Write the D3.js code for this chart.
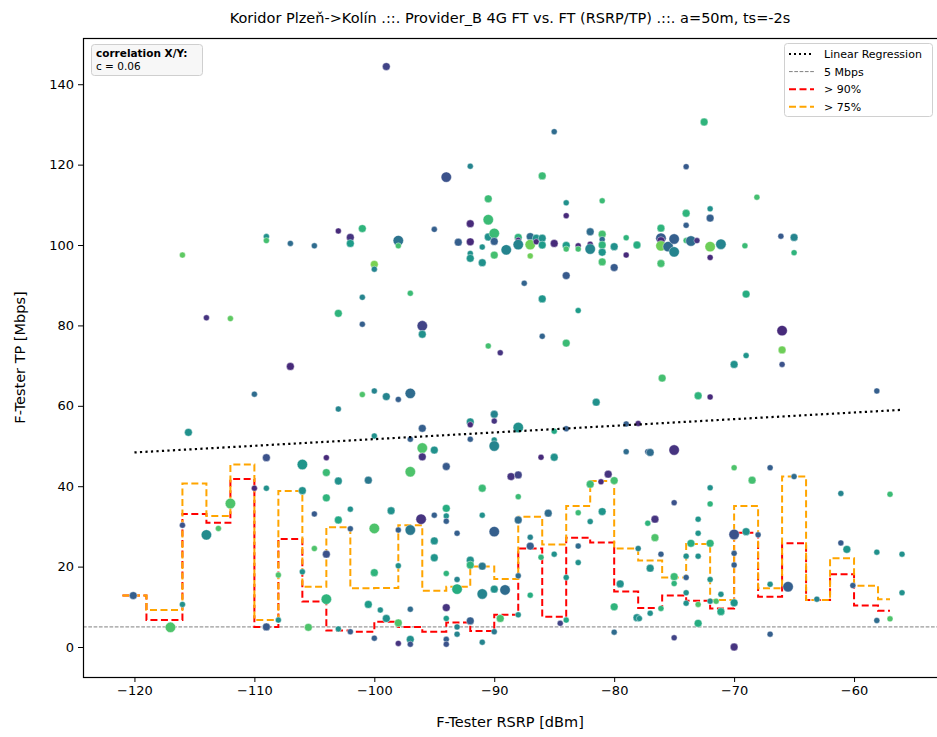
<!DOCTYPE html>
<html>
<head>
<meta charset="utf-8">
<script src="https://cdn.jsdelivr.net/npm/d3@7"></script>
<style>
  body { margin: 0; background: #fff; }
  svg { display: block; font-family: "DejaVu Sans", sans-serif; }
</style>
</head>
<body>
<svg id="chart" width="937" height="737"></svg>
<script>
// ---------------- DATA ----------------
const titleText = "Koridor Plzeň->Kolín .::. Provider_B 4G FT vs. FT (RSRP/TP) .::. a=50m, ts=-2s";
const xLabel = "F-Tester RSRP [dBm]";
const yLabel = "F-Tester TP [Mbps]";
const xTicks = [-120, -110, -100, -90, -80, -70, -60];
const yTicks = [0, 20, 40, 60, 80, 100, 120, 140];
const correlationLabel = "correlation X/Y:";
const correlationValue = "c = 0.06";
const thresholdMbps = 5;
const regressionX = [-120, -56];
const regressionY = [48.4, 59.0];

// percentile step lines (bin centres, dBm)
const stepCenters = [-121, -117, -115, -113, -111, -109, -107, -105, -103, -101, -99, -97, -95, -93, -91, -89,
                     -87, -85, -83, -81, -79, -77, -75, -73, -71, -69, -67, -65, -63, -61, -59, -57];
const p90 = [12.8, 6.7, 33.1, 30.9, 41.8, 5.0, 26.9, 11.3, 4.1, 3.8, 6.3, 5.0, 3.8, 6.1, 4.0, 8.0,
             24.5, 7.5, 27.2, 26.0, 13.8, 9.7, 12.8, 11.5, 9.6, 28.4, 12.5, 25.8, 11.7, 18.1, 10.3, 9.0];
const p75 = [12.8, 9.2, 40.7, 32.6, 45.4, 6.7, 38.8, 15.0, 29.8, 14.6, 14.7, 30.3, 14.0, 15.0, 20.0, 16.9,
             32.4, 25.5, 35.1, 41.3, 24.5, 21.5, 17.3, 25.6, 11.7, 35.1, 14.6, 42.4, 11.7, 22.1, 15.25, 11.9];

// scatter samples: [RSRP dBm, TP Mbps, colour value (0..1), size class]
const samples = [
 [-99.0,144.4,0.2,2],[-92.0,119.6,0.45,1],[-94.0,116.9,0.25,3],[-90.5,111.5,0.68,2],[-85.0,128.2,0.35,1],
 [-86.0,117.2,0.68,2],[-72.5,130.6,0.65,2],[-74.0,119.5,0.28,1],[-68.1,111.9,0.7,1],[-84.0,110.5,0.5,1],
 [-84.0,107.3,0.12,1],[-81.0,111.0,0.68,1],[-72.0,109.0,0.5,1],[-74.0,107.9,0.65,2],[-74.0,104.9,0.3,1],
 [-72.0,106.7,0.3,2],
 [-116.0,97.5,0.75,1],[-109.0,102.1,0.5,1],[-109.0,101.1,0.7,1],[-107.0,100.4,0.35,1],[-105.0,99.8,0.35,1],
 [-103.0,103.5,0.12,1],[-102.0,101.9,0.15,2],[-102.0,100.4,0.55,2],[-101.0,104.1,0.65,2],[-100.0,95.2,0.8,2],
 [-100.0,94.0,0.45,1],[-98.0,101.1,0.38,3],[-98.0,99.8,0.7,1],[-95.0,103.9,0.3,1],[-93.0,100.7,0.3,2],
 [-92.0,105.3,0.12,2],[-92.0,100.8,0.12,2],[-92.0,97.9,0.5,1],[-92.0,96.7,0.52,2],[-91.0,99.5,0.5,1],
 [-91.0,95.6,0.5,2],[-90.5,106.3,0.68,3],[-90.5,102.0,0.5,2],[-90.0,102.9,0.68,3],[-90.0,100.9,0.3,2],
 [-90.0,97.5,0.7,2],[-89.0,98.8,0.45,3],[-88.0,101.9,0.65,2],[-88.0,101.2,0.12,1],[-88.0,100.1,0.45,3],
 [-87.0,102.1,0.35,2],[-87.0,100.1,0.78,3],[-87.0,97.3,0.78,1],[-86.5,101.7,0.5,2],[-86.5,100.8,0.12,1],
 [-86.0,101.7,0.5,2],[-86.0,100.0,0.55,2],[-85.0,100.4,0.12,2],[-84.0,99.9,0.55,2],[-84.0,99.0,0.7,1],
 [-84.0,92.4,0.28,2],[-83.0,99.8,0.12,1],[-83.0,99.0,0.7,1],[-82.0,103.3,0.35,2],[-82.0,100.2,0.12,1],
 [-82.0,99.0,0.45,3],[-81.0,102.7,0.7,2],[-81.0,101.4,0.35,1],[-81.0,100.0,0.65,2],[-81.0,98.2,0.52,2],
 [-81.0,95.8,0.7,2],[-80.0,99.6,0.5,2],[-80.0,94.4,0.28,2],[-79.0,101.8,0.65,1],[-79.0,97.5,0.12,1],
 [-78.1,100.0,0.62,2],[-76.1,104.2,0.65,2],[-76.1,101.7,0.28,3],[-76.1,101.1,0.12,2],[-76.1,99.8,0.78,3],
 [-76.1,95.4,0.7,2],[-75.5,99.6,0.35,3],[-75.0,101.5,0.3,3],[-75.0,98.3,0.45,3],[-74.0,101.1,0.68,1],
 [-73.6,101.0,0.35,3],[-73.1,101.1,0.15,1],[-72.0,99.6,0.78,3],[-72.0,96.9,0.12,1],[-71.1,100.2,0.45,3],
 [-69.1,99.8,0.68,1],[-66.1,102.2,0.28,1],[-65.0,101.9,0.45,2],[-65.0,98.1,0.65,1],
 [-87.5,90.5,0.32,1],[-86.0,86.6,0.52,2],[-86.0,77.3,0.32,1],[-83.0,83.7,0.55,1],[-84.0,75.6,0.68,2],
 [-69.0,87.8,0.62,2],[-66.0,78.7,0.12,3],[-66.0,73.9,0.78,2],[-66.0,70.3,0.25,1],[-69.0,72.5,0.52,1],
 [-70.0,70.3,0.5,2],[-76.0,66.9,0.7,2],[-73.0,62.5,0.65,2],[-72.0,62.2,0.12,1],[-58.1,63.7,0.3,1],
 [-81.5,60.9,0.5,2],[-88.0,54.6,0.5,3],[-85.0,53.7,0.6,1],[-84.0,54.3,0.3,1],[-79.0,55.5,0.3,1],
 [-78.0,55.6,0.12,1],[-89.5,73.2,0.15,1],[-90.5,74.9,0.7,1],[-101.0,87.0,0.45,1],[-97.0,88.0,0.68,1],
 [-103.0,83.0,0.65,2],[-101.0,80.3,0.3,1],[-96.0,79.9,0.2,3],[-96.0,77.8,0.5,2],[-114.0,81.9,0.15,1],
 [-112.0,81.7,0.75,1],[-107.0,69.8,0.12,2],[-110.0,62.9,0.35,1],[-101.0,62.8,0.72,1],[-100.0,63.7,0.45,1],
 [-99.0,62.3,0.45,2],[-98.0,61.6,0.3,1],[-97.0,63.1,0.35,3],[-103.0,59.2,0.45,1],[-115.5,53.4,0.5,2],
 [-92.0,56.0,0.5,2],[-92.0,55.3,0.12,1],[-90.0,57.9,0.45,2],[-90.0,56.2,0.15,1],[-100.0,52.5,0.5,1],
 [-97.0,51.7,0.3,1],[-96.0,54.4,0.3,2],[-92.0,51.7,0.3,1],[-90.0,51.5,0.5,1],[-90.0,50.0,0.45,3],
 [-96.0,49.5,0.72,3],[-95.0,49.0,0.5,2],[-96.0,47.3,0.15,2],[-94.0,44.9,0.28,2],
 [-120.1,12.8,0.3,2],[-117.0,4.9,0.72,3],[-116.0,30.3,0.25,1],[-116.0,10.6,0.5,1],[-114.0,27.9,0.48,3],
 [-113.0,29.5,0.72,1],[-112.0,35.7,0.72,3],[-110.0,39.5,0.12,1],[-109.0,47.1,0.25,2],[-109.0,39.5,0.5,1],
 [-109.0,5.0,0.28,2],[-108.0,17.9,0.72,1],[-108.0,6.7,0.5,1],[-106.0,45.4,0.52,3],[-106.0,38.9,0.5,2],
 [-106.0,18.7,0.5,1],[-105.5,4.9,0.72,2],[-105.0,33.1,0.28,1],[-105.0,24.5,0.72,1],[-104.0,47.1,0.12,1],
 [-104.0,43.4,0.68,2],[-104.0,37.1,0.65,2],[-104.0,23.1,0.25,2],[-104.0,11.9,0.65,3],[-103.0,41.3,0.5,2],
 [-103.0,31.6,0.6,2],[-103.0,4.5,0.5,1],[-102.0,34.3,0.5,1],[-102.0,29.4,0.3,1],[-102.0,3.8,0.3,1],
 [-100.5,41.5,0.4,2],[-100.5,10.6,0.55,2],[-100.0,29.5,0.72,3],[-100.0,18.5,0.65,2],[-100.0,2.2,0.3,1],
 [-99.5,9.2,0.5,1],[-99.0,7.1,0.5,2],[-98.0,6.0,0.72,2],[-98.0,0.9,0.15,1],[-97.0,1.9,0.5,2],
 [-97.0,0.7,0.25,1],[-97.0,9.4,0.35,1],[-97.0,43.6,0.72,3],[-98.6,33.9,0.5,2],[-98.0,29.1,0.3,1],
 [-97.0,29.1,0.4,3],[-98.0,20.2,0.5,1],[-96.1,31.8,0.15,3],[-95.0,32.8,0.3,1],[-94.0,34.5,0.62,2],
 [-94.0,32.6,0.5,1],[-94.0,31.3,0.3,1],[-95.0,26.4,0.5,2],[-95.0,22.2,0.52,2],[-94.0,18.3,0.65,1],
 [-94.0,9.8,0.15,2],[-94.0,7.1,0.55,1],[-94.0,1.9,0.3,1],[-94.0,0.7,0.25,1],[-93.1,28.3,0.3,1],
 [-93.1,16.8,0.45,1],[-93.1,14.4,0.62,3],[-93.1,5.0,0.45,1],[-93.1,3.2,0.45,1],[-92.0,21.6,0.5,2],
 [-92.0,20.4,0.65,2],[-92.0,6.5,0.3,2],[-91.0,39.5,0.68,2],[-91.0,32.8,0.5,1],[-91.0,20.1,0.4,2],
 [-91.0,13.2,0.45,3],[-91.0,1.2,0.45,1],[-90.0,28.7,0.3,3],[-90.0,14.4,0.5,2],[-90.0,3.8,0.4,1],
 [-89.1,14.2,0.35,3],[-88.6,42.4,0.15,2],[-88.0,42.8,0.2,2],[-88.0,37.4,0.68,1],[-88.0,31.6,0.35,2],
 [-88.0,17.7,0.35,1],[-88.0,8.0,0.5,1],[-89.5,7.1,0.7,2],[-87.0,27.3,0.45,1],[-87.0,25.1,0.3,2],
 [-87.0,12.9,0.62,1],[-86.1,47.2,0.12,1],[-86.1,22.3,0.65,1],[-85.5,33.3,0.35,2],[-85.0,47.2,0.5,2],
 [-85.0,23.1,0.5,1],[-84.5,5.9,0.2,1],[-84.0,17.3,0.52,1],[-84.0,6.7,0.6,1],[-83.0,33.4,0.68,1],
 [-83.0,25.1,0.35,1],[-83.0,21.0,0.5,1],[-82.0,40.5,0.68,2],[-82.0,31.2,0.5,1],[-81.1,41.1,0.12,1],
 [-81.0,33.7,0.52,2],[-80.5,43.0,0.15,2],[-80.0,41.4,0.7,2],[-80.0,10.0,0.65,2],[-79.5,15.7,0.5,2],
 [-80.0,3.7,0.35,1],[-79.0,48.6,0.35,1],[-78.1,7.3,0.5,2],[-78.0,24.5,0.45,1],[-77.2,48.6,0.3,1],
 [-77.0,19.6,0.5,2],[-77.2,30.8,0.65,1],[-77.0,48.4,0.35,2],[-75.0,49.0,0.15,3],[-75.0,35.9,0.25,1],
 [-76.6,31.8,0.15,2],[-76.6,27.2,0.72,2],[-76.1,23.1,0.3,1],[-77.9,7.1,0.5,1],[-77.0,8.4,0.5,1],
 [-76.1,9.6,0.65,1],[-75.0,17.5,0.68,2],[-75.0,15.8,0.65,1],[-75.0,2.3,0.2,1],[-74.0,22.6,0.5,1],
 [-74.0,17.3,0.3,1],[-74.0,13.5,0.5,1],[-74.0,10.9,0.5,1],[-73.6,25.8,0.62,2],[-73.0,31.8,0.52,1],
 [-73.0,28.3,0.52,1],[-73.0,22.6,0.5,1],[-73.0,10.6,0.72,1],[-73.0,5.9,0.62,2],[-72.0,39.6,0.5,1],
 [-72.0,35.6,0.65,1],[-72.0,25.8,0.65,2],[-72.0,16.8,0.52,1],[-72.0,11.4,0.5,1],[-71.5,11.4,0.72,1],
 [-71.1,8.8,0.6,2],[-71.1,13.1,0.5,1],[-70.0,44.6,0.72,1],[-70.0,28.0,0.25,3],[-70.0,23.3,0.3,1],
 [-70.0,20.4,0.3,1],[-70.0,11.0,0.52,2],[-70.0,0.0,0.15,2],[-69.0,28.7,0.5,2],[-68.5,41.5,0.7,2],
 [-68.0,27.9,0.3,1],[-67.0,44.6,0.3,1],[-67.0,15.6,0.5,1],[-67.0,3.2,0.3,1],[-65.5,15.0,0.3,3],
 [-65.0,42.4,0.35,1],[-63.1,11.9,0.45,1],[-61.1,38.2,0.45,1],[-61.1,25.9,0.28,1],[-60.6,24.3,0.52,2],
 [-60.1,15.3,0.3,1],[-58.1,23.6,0.5,1],[-58.1,6.6,0.35,1],[-57.0,38.0,0.68,1],[-57.0,7.0,0.72,1],
 [-56.0,23.1,0.5,1],[-56.0,13.5,0.5,1]
];

// legend entries
const legendLabels = ["Linear Regression", "5 Mbps", "> 90%", "> 75%"];

// ---------------- LAYOUT ----------------
const margin = {left: 83, top: 38, right: 941, bottom: 677};
const svg = d3.select("#chart");

const x = d3.scaleLinear().domain([-124.29, -52.75]).range([margin.left, margin.right]);
const y = d3.scaleLinear().domain([-7.46, 151.5]).range([margin.bottom, margin.top]);
const r = d3.scaleOrdinal().domain([1, 2, 3]).range([3.0, 3.9, 5.2]);

svg.append("defs").append("clipPath").attr("id", "plotclip")
  .append("rect").attr("x", margin.left).attr("y", margin.top)
  .attr("width", margin.right - margin.left).attr("height", margin.bottom - margin.top);

const plot = svg.append("g").attr("clip-path", "url(#plotclip)");

// 5 Mbps threshold
plot.append("line")
  .attr("x1", margin.left).attr("x2", margin.right)
  .attr("y1", y(thresholdMbps)).attr("y2", y(thresholdMbps))
  .attr("stroke", "#808080").attr("stroke-width", 1).attr("stroke-dasharray", "3.7,1.6");

// step lines
const stepLine = vals => d3.line().curve(d3.curveStep)
  .x((d, i) => x(stepCenters[i])).y(d => y(d))(vals);

plot.append("path").attr("d", stepLine(p90))
  .attr("fill", "none").attr("stroke", "red").attr("stroke-width", 2).attr("stroke-dasharray", "7,3.5");
plot.append("path").attr("d", stepLine(p75))
  .attr("fill", "none").attr("stroke", "orange").attr("stroke-width", 2).attr("stroke-dasharray", "7,3.5");

// scatter
plot.append("g").selectAll("circle").data(samples).join("circle")
  .attr("cx", d => x(d[0])).attr("cy", d => y(d[1]))
  .attr("r", d => r(d[3]))
  .attr("fill", d => d3.interpolateViridis(d[2]))
  .attr("stroke", "#fff").attr("stroke-width", 0.5).attr("stroke-opacity", 0.8);

// regression
plot.append("line")
  .attr("x1", x(regressionX[0])).attr("y1", y(regressionY[0]))
  .attr("x2", x(regressionX[1])).attr("y2", y(regressionY[1]))
  .attr("stroke", "#000").attr("stroke-width", 2.2).attr("stroke-dasharray", "2.2,3.3");

// axes
const xAxis = d3.axisBottom(x).tickValues(xTicks).tickSize(5).tickPadding(4).tickFormat(d => "\u2212" + Math.abs(d));
const yAxis = d3.axisLeft(y).tickValues(yTicks).tickSize(5).tickPadding(4);

const gx = svg.append("g").attr("transform", `translate(0,${margin.bottom})`).call(xAxis);
const gy = svg.append("g").attr("transform", `translate(${margin.left},0)`).call(yAxis);
[gx, gy].forEach(g => {
  g.select(".domain").remove();
  g.selectAll("text").attr("font-size", 13).attr("fill", "#000").attr("font-family", "DejaVu Sans, sans-serif");
  g.selectAll("line").attr("stroke", "#000").attr("stroke-width", 1);
});

// frame
svg.append("rect").attr("x", margin.left + 0.5).attr("y", margin.top + 0.5)
  .attr("width", margin.right - margin.left).attr("height", margin.bottom - margin.top)
  .attr("fill", "none").attr("stroke", "#000").attr("stroke-width", 1.2);

// title & labels
svg.append("text").attr("x", 510).attr("y", 23).attr("text-anchor", "middle")
  .attr("font-size", 14.5).text(titleText);
svg.append("text").attr("x", 510).attr("y", 727).attr("text-anchor", "middle")
  .attr("font-size", 14.5).text(xLabel);
svg.append("text").attr("transform", `translate(25,${(margin.top + margin.bottom) / 2}) rotate(-90)`)
  .attr("text-anchor", "middle").attr("font-size", 14.5).text(yLabel);

// correlation box
const cb = svg.append("g");
cb.append("rect").attr("x", 91.5).attr("y", 44.5).attr("width", 111).attr("height", 31).attr("rx", 3)
  .attr("fill", "#f7f7f7").attr("stroke", "#cfcfcf").attr("stroke-width", 1);
cb.append("text").attr("x", 96).attr("y", 57).attr("font-size", 10.5).attr("font-weight", "bold").text(correlationLabel);
cb.append("text").attr("x", 96).attr("y", 70).attr("font-size", 10.5).text(correlationValue);

// legend
const lg = svg.append("g");
lg.append("rect").attr("x", 784.5).attr("y", 43.5).attr("width", 148).attr("height", 73).attr("rx", 3)
  .attr("fill", "#fff").attr("fill-opacity", 0.85).attr("stroke", "#d0d0d0");
const legendStyles = [
  {stroke: "#000", w: 2, dash: "2,3"},
  {stroke: "#808080", w: 1, dash: "3.7,1.6"},
  {stroke: "red", w: 2, dash: "7,3.5"},
  {stroke: "orange", w: 2, dash: "7,3.5"}
];
legendLabels.forEach((lab, i) => {
  const yy = 54 + i * 17.6;
  lg.append("line").attr("x1", 789).attr("x2", 814).attr("y1", yy).attr("y2", yy)
    .attr("stroke", legendStyles[i].stroke).attr("stroke-width", legendStyles[i].w)
    .attr("stroke-dasharray", legendStyles[i].dash);
  lg.append("text").attr("x", 824).attr("y", yy + 4).attr("font-size", 11).text(lab);
});
</script>
</body>
</html>
